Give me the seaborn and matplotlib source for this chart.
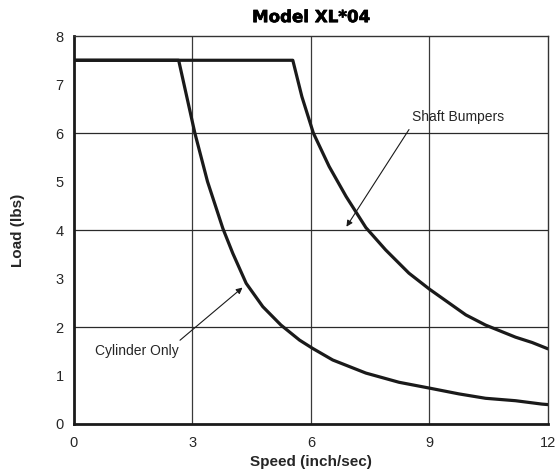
import pandas as pd
import matplotlib
matplotlib.use("Agg")
import matplotlib.pyplot as plt
import matplotlib.patheffects as pe
import seaborn as sns
from matplotlib.ticker import MultipleLocator

# Curve values
cyl_speed = [0, 2.65, 3.06, 3.38, 3.77, 4.02, 4.36, 4.78, 5.24, 5.71, 6.04, 6.55,
             7.39, 8.23, 9.0, 9.75, 10.42, 11.18, 11.85, 12]
cyl_load = [7.5, 7.5, 6.0, 5.0, 4.03, 3.52, 2.90, 2.42, 2.04, 1.73, 1.56, 1.32,
            1.05, 0.86, 0.74, 0.62, 0.53, 0.48, 0.41, 0.40]

shaft_speed = [0, 5.54, 5.77, 6.06, 6.46, 6.89, 7.39, 7.89, 8.48, 9.0, 9.92,
               10.42, 11.18, 11.6, 12]
shaft_load = [7.5, 7.5, 6.75, 6.0, 5.31, 4.69, 4.05, 3.59, 3.11, 2.78, 2.25,
              2.04, 1.79, 1.68, 1.55]

df = pd.concat([
    pd.DataFrame({"speed": cyl_speed, "load": cyl_load, "series": "Cylinder Only"}),
    pd.DataFrame({"speed": shaft_speed, "load": shaft_load, "series": "Shaft Bumpers"}),
])

sns.set_style("white")
plt.rcParams["font.family"] = ["Liberation Sans", "DejaVu Sans"]

fig = plt.figure(figsize=(5.58, 4.74), dpi=100)
ax = fig.add_axes([0.1326, 0.1055, 0.8494, 0.8185])

sns.lineplot(data=df, x="speed", y="load", units="series", estimator=None,
             sort=False, color="#1a1a1a", linewidth=2.3, ax=ax)

ax.set_xlim(0, 12)
ax.set_ylim(0, 8)
ax.xaxis.set_major_locator(MultipleLocator(3))
ax.xaxis.set_minor_locator(MultipleLocator(1))
ax.yaxis.set_major_locator(MultipleLocator(1))

# grid: vertical every 3, horizontal every 2
for gx in [3, 6, 9]:
    ax.axvline(gx, color="#3a3a3a", linewidth=0.9, zorder=0)
for gy in [2, 4, 6]:
    ax.axhline(gy, color="#2a2a2a", linewidth=0.9, zorder=0)

ax.tick_params(axis="x", which="both", direction="in", length=7, width=1,
               color="#222222", labelsize=10.5, pad=9)
ax.tick_params(axis="y", which="major", direction="inout", length=9, width=1,
               color="#222222", labelsize=10.5, pad=3)

for side in ["left", "bottom"]:
    ax.spines[side].set_linewidth(2)
    ax.spines[side].set_color("#1a1a1a")
for side in ["top", "right"]:
    ax.spines[side].set_linewidth(1)
    ax.spines[side].set_color("#333333")

ax.set_xlabel("Speed (inch/sec)", fontsize=11, fontweight="bold", labelpad=3)
ax.set_ylabel("Load (lbs)", fontsize=11, fontweight="bold", labelpad=22)
title = ax.set_title("Model XL*04", fontsize=12, fontweight="bold", color="black",
                     family=["DejaVu Sans"], pad=10)
title.set_path_effects([pe.withStroke(linewidth=0.5, foreground="black")])

arrow = dict(arrowstyle="-|>", color="#1a1a1a", linewidth=0.8, mutation_scale=9)
ax.annotate("", xy=(6.86, 4.02), xytext=(8.52, 6.12), arrowprops=arrow)
ax.text(8.56, 6.33, "Shaft Bumpers", fontsize=10, va="center", ha="left")
ax.annotate("", xy=(4.32, 2.85), xytext=(2.63, 1.69), arrowprops=arrow)
ax.text(0.53, 1.51, "Cylinder Only", fontsize=10, va="center", ha="left")

fig.savefig("out.png", dpi=100, facecolor="white")
